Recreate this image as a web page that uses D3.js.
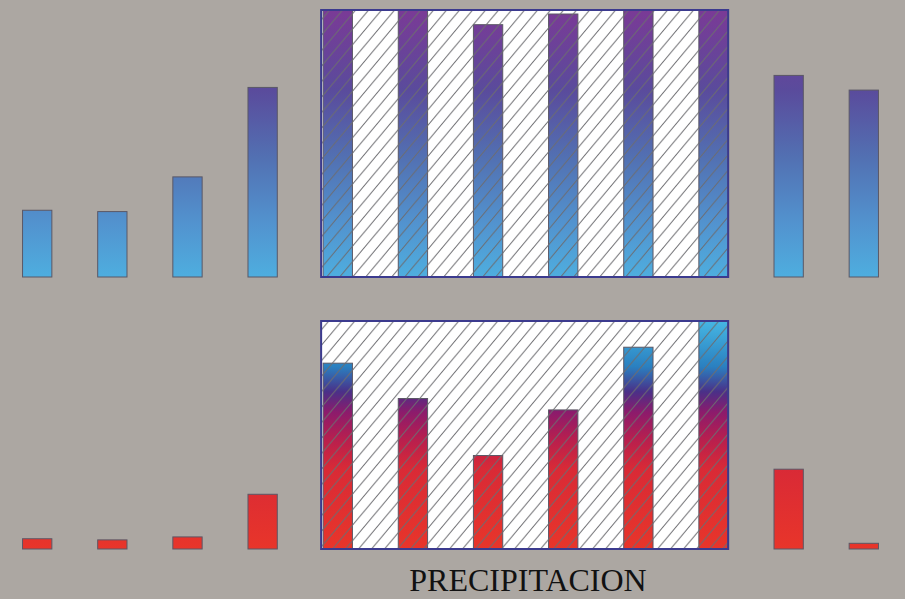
<!DOCTYPE html>

<head>
  <meta charset="utf-8">
  <script src="https://d3js.org/d3.v7.min.js"></script>
  <style>
    body {
      margin: 0;
      background-color: #aca7a2;
    }

    svg {
      display: block;
    }

    .barra {
      stroke: #5b5866;
      stroke-width: 1;
    }
  </style>
</head>

<body>
  <div id="graph"></div>
  <script>
    // Datos (valores relativos, 0-100)
    var meses = ["Ene", "Feb", "Mar", "Abr", "May", "Jun", "Jul", "Ago", "Sep", "Oct", "Nov", "Dic"];
    var serieArriba = [25, 24.5, 37.5, 71, 100, 100, 94.5, 98.5, 100, 100, 75.5, 70];
    var precipitacion = [4.5, 4, 5.3, 24, 81.5, 66, 41, 61, 88.5, 100, 35, 2.5];
    var mesesLluviosos = ["May", "Jun", "Jul", "Ago", "Sep", "Oct"];
    var titulo = "PRECIPITACION";

    var width = 905;
    var height = 599;
    var svg = d3.select("#graph").append("svg")
      .attr("width", width)
      .attr("height", height);

    var defs = svg.append("defs");

    // escala de meses
    var x = d3.scaleBand()
      .domain(meses)
      .range([0, 901])
      .paddingInner(0.61)
      .paddingOuter(0.3);

    var yArriba = d3.scaleLinear().domain([0, 100]).range([277, 10]);
    var yAbajo = d3.scaleLinear().domain([0, 100]).range([549, 321]);

    // degradados en coordenadas absolutas (el color depende de la altura)
    function degradado(id, y1, y2, stops) {
      var g = defs.append("linearGradient")
        .attr("id", id)
        .attr("gradientUnits", "userSpaceOnUse")
        .attr("x1", 0).attr("x2", 0)
        .attr("y1", y1).attr("y2", y2);
      g.selectAll("stop").data(stops).enter()
        .append("stop")
        .attr("offset", d => d[0])
        .attr("stop-color", d => d[1]);
    }
    degradado("gradArriba", yArriba(100), yArriba(0), [
      [0, "#7a3a96"], [0.3, "#5a4b9c"], [0.55, "#5270b2"], [0.8, "#5293cf"], [1, "#4eaedf"]
    ]);
    degradado("gradAbajo", yAbajo(100), yAbajo(0), [
      [0, "#46b6e3"], [0.2, "#2a80c0"], [0.31, "#4a3088"], [0.4, "#8c1b6c"],
      [0.52, "#b81f4e"], [0.65, "#d92a36"], [1, "#e8352a"]
    ]);

    // rayado diagonal
    defs.append("pattern")
      .attr("id", "rayas")
      .attr("patternUnits", "userSpaceOnUse")
      .attr("width", 13)
      .attr("height", 15.5)
      .append("path")
      .attr("d", "M0,15.5 L13,0 M-1,1 L1,-1 M12,16.5 L14,14.5")
      .attr("stroke", "#6c6c70")
      .attr("stroke-width", 1)
      .attr("fill", "none");

    function fila(valores, y, grad, clase) {
      var x0 = x(mesesLluviosos[0]) - 2;
      var x1 = x(mesesLluviosos[mesesLluviosos.length - 1]) + x.bandwidth();
      var g = svg.append("g").attr("class", clase);

      g.append("rect")
        .attr("x", x0).attr("y", y(100))
        .attr("width", x1 - x0).attr("height", y(0) - y(100))
        .attr("fill", "#ffffff");

      g.selectAll(".barra").data(valores).enter()
        .append("rect")
        .attr("class", "barra")
        .attr("x", (d, i) => x(meses[i]))
        .attr("y", d => y(d))
        .attr("width", x.bandwidth())
        .attr("height", d => y(0) - y(d))
        .attr("fill", "url(#" + grad + ")");

      g.append("rect")
        .attr("x", x0).attr("y", y(100))
        .attr("width", x1 - x0).attr("height", y(0) - y(100))
        .attr("fill", "url(#rayas)");

      g.append("rect")
        .attr("x", x0).attr("y", y(100))
        .attr("width", x1 - x0).attr("height", y(0) - y(100))
        .attr("fill", "none")
        .attr("stroke", "#3b3a8e")
        .attr("stroke-width", 2);
    }

    fila(serieArriba, yArriba, "gradArriba", "arriba");
    fila(precipitacion, yAbajo, "gradAbajo", "abajo");

    svg.append("text")
      .attr("x", 528)
      .attr("y", 591)
      .attr("text-anchor", "middle")
      .attr("font-family", "Liberation Serif, Times New Roman, serif")
      .attr("font-size", 32)
      .attr("fill", "#111")
      .text(titulo);
  </script>
</body>
